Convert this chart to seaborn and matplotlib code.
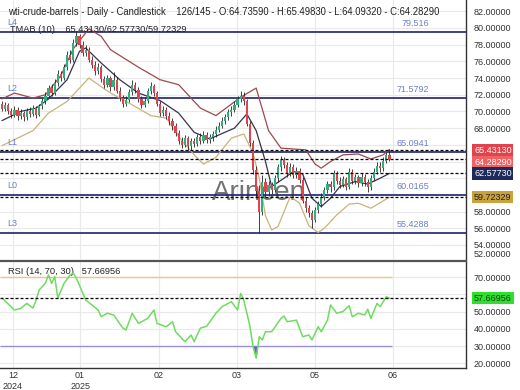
import matplotlib
matplotlib.use("Agg")
import matplotlib.pyplot as plt
import matplotlib.transforms as mtransforms
from matplotlib.ticker import StrMethodFormatter, FuncFormatter
import numpy as np
import pandas as pd
import seaborn as sns

# daily candles, bar 0 ~ early Dec 2024, bar 125 = last bar (2 Jun 2025)
opens = [70.9, 70.3, 70.8, 70.1, 69.6, 70.2, 69.4, 69.8, 69.3, 70.0, 69.7, 70.4, 69.6, 70.6, 71.2, 71.9,
         72.8, 72.2, 73.4, 74.5, 74.0, 75.3, 76.8, 76.2, 78.2, 79.0, 78.0, 77.0, 77.4, 76.2, 75.6, 74.8,
         75.3, 73.9, 73.2, 74.0, 72.9, 73.8, 72.5, 71.6, 70.9, 71.4, 72.3, 73.2, 72.6, 71.5, 70.8, 71.3,
         72.4, 73.0, 72.2, 70.9, 69.8, 70.2, 69.5, 68.8, 68.2, 67.4, 66.5, 66.0, 66.8, 65.8, 66.4, 66.1,
         66.9, 66.5, 67.2, 66.6, 66.9, 67.3, 67.8, 68.3, 68.9, 69.3, 69.9, 70.2, 70.8, 71.5, 71.9, 71.2,
         68.5, 66.2, 63.0, 60.5, 58.0, 61.5, 60.3, 61.2, 60.6, 62.0, 63.3, 64.2, 63.6, 62.6, 63.4, 62.4,
         62.9, 61.8, 59.3, 58.4, 57.8, 57.0, 58.2, 58.9, 59.8, 60.6, 61.3, 60.9, 62.6, 61.7, 61.2, 61.9,
         61.0, 62.8, 61.7, 62.1, 61.4, 62.2, 61.5, 60.9, 62.0, 62.8, 63.5, 63.2, 64.1, 64.7359]
highs = [71.3, 71.1, 71.0, 70.4, 70.6, 70.5, 70.3, 70.1, 70.4, 70.5, 70.8, 70.7, 70.9, 71.6, 72.3, 73.2,
         73.3, 73.9, 75.0, 74.9, 75.7, 77.2, 77.3, 78.7, 79.6, 79.3, 78.4, 77.9, 77.7, 76.6, 76.0, 75.8,
         75.6, 74.3, 74.4, 74.3, 74.7, 74.1, 72.9, 72.0, 71.8, 72.7, 73.8, 73.5, 72.9, 71.9, 71.7, 72.8,
         73.5, 73.3, 72.5, 71.2, 70.7, 70.5, 69.9, 69.2, 68.6, 67.8, 66.9, 67.2, 67.1, 66.8, 66.8, 67.3,
         67.4, 67.6, 67.5, 67.3, 67.7, 68.2, 68.7, 69.3, 69.7, 70.3, 70.6, 71.2, 71.9, 72.4, 72.3, 71.5,
         68.9, 66.6, 63.5, 61.2, 62.4, 62.0, 61.7, 61.6, 62.4, 63.7, 64.7, 64.6, 64.0, 63.8, 63.7, 63.3,
         63.2, 62.1, 59.8, 58.8, 58.2, 58.6, 59.3, 60.2, 61.0, 61.7, 61.7, 63.0, 62.9, 62.1, 62.3, 62.2,
         63.2, 63.1, 62.5, 62.4, 62.6, 62.5, 61.9, 62.4, 63.2, 63.9, 63.9, 64.5, 65.1, 65.4983]
lows = [70.0, 70.0, 69.7, 69.2, 69.3, 69.0, 69.1, 68.9, 69.0, 69.3, 69.4, 69.2, 69.4, 70.3, 70.9, 71.6,
        71.8, 72.0, 73.1, 73.6, 73.8, 75.0, 75.8, 75.9, 77.8, 77.6, 76.6, 76.6, 75.9, 75.2, 74.4, 74.5,
        73.5, 72.8, 72.9, 72.5, 72.6, 72.2, 71.2, 70.5, 70.6, 71.1, 72.0, 72.2, 71.1, 70.4, 70.5, 71.0,
        72.1, 71.8, 70.6, 69.4, 69.5, 69.1, 68.4, 67.8, 67.0, 66.1, 65.6, 65.7, 65.4, 65.4, 65.7, 65.8,
        66.1, 66.2, 66.2, 66.2, 66.5, 66.9, 67.5, 68.0, 68.5, 69.0, 69.5, 69.9, 70.5, 71.1, 70.8, 68.2,
        65.8, 62.5, 59.8, 55.4, 57.6, 59.7, 59.9, 60.1, 60.3, 61.6, 62.9, 63.2, 62.2, 62.3, 62.0, 62.0,
        61.4, 59.0, 58.0, 57.3, 56.0, 56.7, 57.8, 58.5, 59.4, 60.2, 60.4, 60.6, 61.3, 60.8, 60.9, 60.6,
        60.7, 61.3, 61.3, 61.0, 61.1, 61.1, 60.4, 60.6, 61.7, 62.5, 62.8, 62.9, 63.8, 64.0932]
closes = [70.3, 70.8, 70.0, 69.6, 70.2, 69.4, 69.8, 69.3, 70.0, 69.7, 70.4, 69.6, 70.6, 71.2, 71.9, 72.8,
          72.2, 73.4, 74.5, 74.0, 75.3, 76.8, 76.2, 78.2, 79.0, 78.0, 77.0, 77.4, 76.2, 75.6, 74.8, 75.3,
          73.9, 73.2, 74.0, 72.9, 73.8, 72.5, 71.6, 70.9, 71.4, 72.3, 73.2, 72.6, 71.5, 70.8, 71.3, 72.4,
          73.0, 72.2, 70.9, 69.8, 70.2, 69.5, 68.8, 68.2, 67.4, 66.5, 66.0, 66.8, 65.8, 66.4, 66.1, 66.9,
          66.5, 67.2, 66.6, 66.9, 67.3, 67.8, 68.3, 68.9, 69.3, 69.9, 70.2, 70.8, 71.5, 71.9, 71.2, 68.5,
          66.2, 63.0, 60.5, 58.0, 61.5, 60.3, 61.2, 60.6, 62.0, 63.3, 64.2, 63.6, 62.6, 63.4, 62.4, 62.9,
          61.8, 59.3, 58.4, 57.8, 57.0, 58.2, 58.9, 59.8, 60.6, 61.3, 60.9, 62.6, 61.7, 61.2, 61.9, 61.0,
          62.8, 61.7, 62.1, 61.4, 62.2, 61.5, 60.9, 62.0, 62.8, 63.5, 63.2, 64.1, 64.74, 64.2829]

# TMAB (10) bands at these bars
upper_idx = [0, 4, 10, 14, 19, 23, 28, 32, 35, 44, 51, 57, 64, 69, 77, 82, 86, 90, 94, 98, 101, 103,
             106, 110, 115, 119, 123, 125]
upper_band = [71.5, 72.2, 71.6, 72.0, 74.3, 77.5, 79.9, 79.0, 77.4, 75.3, 73.8, 73.2, 70.4, 69.5, 71.7,
              72.8, 67.7, 65.6, 65.5, 65.4, 63.7, 63.2, 64.0, 64.8, 64.9, 64.3, 64.8, 65.4313]
mid_idx = [0, 6, 11, 15, 21, 25, 27, 32, 38, 44, 51, 57, 62, 67, 75, 79, 82, 85, 87, 91, 94, 97, 100,
           103, 106, 109, 114, 118, 122, 125]
mid_band = [68.9, 70.0, 70.4, 71.5, 73.8, 77.2, 77.6, 75.8, 73.8, 72.2, 71.3, 69.8, 67.5, 66.7, 68.0,
            69.7, 67.7, 64.0, 61.0, 62.0, 62.8, 62.5, 59.6, 58.6, 59.6, 61.0, 61.6, 61.3, 62.0, 62.5773]
lower_idx = [0, 10, 15, 21, 28, 35, 41, 48, 53, 58, 63, 65, 69, 74, 78, 81, 83, 85, 87, 89, 93, 96, 99,
             102, 104, 108, 112, 115, 119, 125]
lower_band = [65.9, 67.7, 69.8, 71.2, 74.0, 72.2, 71.0, 69.5, 69.2, 66.5, 64.4, 63.7, 64.5, 66.8, 67.3,
              65.0, 62.0, 57.5, 55.8, 56.2, 59.8, 59.0, 56.3, 55.5, 56.0, 57.6, 58.9, 59.0, 58.4, 59.72329]

# RSI (14, 70, 30)
rsi_idx = [0, 4, 6, 8, 10, 11, 12, 14, 15, 16, 17, 18, 20, 22, 23, 24, 27, 31, 32, 34, 36, 39, 40, 42,
           44, 47, 49, 50, 53, 55, 56, 59, 61, 62, 64, 66, 69, 71, 74, 76, 77, 78, 80, 81, 82, 83, 84,
           85, 87, 90, 91, 92, 95, 97, 99, 100, 102, 103, 105, 106, 108, 110, 112, 113, 115, 117, 118,
           119, 121, 122, 124, 125]
rsi_vals = [57.8, 50.9, 51.8, 54.7, 52.0, 56.7, 62.5, 66.5, 71.2, 66.3, 70.2, 57.8, 66.3, 71.2, 72.3,
            69.3, 56.7, 50.9, 47.0, 49.0, 48.0, 40.4, 39.3, 49.0, 43.1, 46.0, 50.9, 43.1, 41.2, 44.1,
            38.3, 32.5, 36.4, 32.5, 40.4, 41.4, 49.0, 52.8, 55.7, 50.9, 60.5, 56.7, 41.4, 29.6, 23.0,
            35.4, 33.5, 38.3, 38.3, 46.0, 47.4, 44.1, 45.0, 35.4, 36.4, 33.5, 41.2, 38.3, 45.0, 53.8,
            49.0, 50.0, 53.4, 47.0, 49.0, 48.0, 51.3, 46.0, 54.7, 52.8, 58.6, 57.66956]

level_names = ["L4", "L2", "L1", "L0", "L3"]
level_values = [79.516, 71.5792, 65.0941, 60.0165, 55.4288]
level_text = ["79.516", "71.5792", "65.0941", "60.0165", "55.4288"]

tick_pos = [3.5, 25.2, 50.6, 75.8, 101.0, 126.1]
tick_labels = ["12\n2024", "01\n2025", "02", "03", "05", "06"]

last_upper, last_mid, last_lower = 65.43130, 62.57730, 59.72329
last_close = 64.28290
last_rsi = 57.66956

GREEN = "#2fae7e"
RED = "#e5424d"
NAVY = "#1c2370"
LEVEL_TXT = "#6a7fc8"
GRID = "#e9e9e9"

sns.set_theme(style="white")
plt.rcParams["font.family"] = ["Liberation Sans", "DejaVu Sans"]

fig = plt.figure(figsize=(5.2, 3.9), dpi=100)
W, H = 520, 390
ax = fig.add_axes([0, 1 - 259 / H, 466 / W, 259 / H])
ax_rsi = fig.add_axes([0, 1 - 368 / H, 466 / W, 107 / H], sharex=ax)

df = pd.DataFrame({"o": opens, "h": highs, "l": lows, "c": closes})
df["i"] = np.arange(len(df))
up = df["c"] >= df["o"]

# ---- main panel
ax.vlines(df["i"], df["l"], df["h"], color="#222222", lw=0.6, zorder=4)
ax.bar(df["i"], (df["c"] - df["o"]).abs().clip(lower=0.06),
       bottom=df[["o", "c"]].min(axis=1), width=0.72,
       color=np.where(up, GREEN, RED), linewidth=0, zorder=5)

sns.lineplot(x=upper_idx, y=upper_band, ax=ax, color="#9c4a4a", lw=0.9, zorder=3)
sns.lineplot(x=mid_idx, y=mid_band, ax=ax, color="#33334f", lw=0.9, zorder=3)
sns.lineplot(x=lower_idx, y=lower_band, ax=ax, color="#c9b37a", lw=0.9, zorder=3)

bl = mtransforms.blended_transform_factory(ax.transAxes, ax.transData)
for name, v, t in zip(level_names, level_values, level_text):
    ax.axhline(v, color=NAVY, lw=1.2, zorder=2)
    ax.text(0.015, v + 0.6, name, transform=bl, fontsize=6.5, color=LEVEL_TXT, va="bottom", zorder=6)
    ax.text(0.921, v + 0.5, t, transform=bl, fontsize=6.5, color=LEVEL_TXT, va="bottom", ha="right", zorder=6)

for v in [last_upper, last_close, last_mid, last_lower]:
    ax.axhline(v, color="black", lw=0.9, ls=(0, (2.4, 1.6)), zorder=6)

ax.text(0.556, 0.255, "Arincen", transform=ax.transAxes, fontsize=20, color="#5a5a5a",
        alpha=0.85, ha="center", va="center", zorder=1)

ax.set_xlim(-0.65, 149.7)
ax.set_ylim(52.32, 83.35)
ax.set_yticks(np.arange(54, 83, 2))
# labels 60..66 sit under the price boxes in the original
ax.yaxis.set_major_formatter(FuncFormatter(lambda v, p: "" if 59.5 < v < 66.5 else f"{v:.5f}"))
ax.yaxis.tick_right()
ax.tick_params(axis="y", length=0, pad=5.5, labelsize=6.5, labelcolor="#333333")
ax.tick_params(axis="x", labelbottom=False, length=0)
ax.set_xticks(tick_pos)
ax.grid(True, color=GRID, lw=0.8)
ax.set_axisbelow(True)
for s in ["left", "top", "bottom"]:
    ax.spines[s].set_visible(False)
ax.spines["right"].set_color("#333333")
ax.spines["right"].set_linewidth(1.0)
# 52 label sits clamped at the panel bottom in the original
ax.text(1.0172, 52.82, "52.00000", transform=bl, fontsize=6.5, color="#333333", va="center")


def price_box(a, y, text, fc, tc, dy=0):
    tr = mtransforms.offset_copy(mtransforms.blended_transform_factory(a.transAxes, a.transData),
                                 fig=fig, x=0, y=dy, units="dots")
    a.text(1.0172, y, text, transform=tr, ha="left", va="center", fontsize=6.5, color=tc,
           bbox=dict(boxstyle="square,pad=0.18", fc=fc, ec="none"), clip_on=False, zorder=10)


price_box(ax, last_upper, f"{last_upper:.5f}", "#e0434c", "white", dy=-1)
price_box(ax, last_close, f"{last_close:.5f}", "#f06262", "white", dy=-3)
price_box(ax, last_mid, f"{last_mid:.5f}", "#1d2a5c", "white")
price_box(ax, last_lower, f"{last_lower:.5f}", "#c9a23a", "#222222")

# ---- RSI panel
rsi = np.array(rsi_vals)
sns.lineplot(x=rsi_idx, y=rsi_vals, ax=ax_rsi, color="#6edc5f", lw=1.1, zorder=4)
ax_rsi.fill_between(rsi_idx, rsi, 30, where=rsi < 30, interpolate=True, color="#6f5fc8", lw=0, zorder=3)
ax_rsi.hlines(70, -0.65, 125.8, color="#f3c57a", lw=1.0, zorder=2)
ax_rsi.hlines(30, -0.65, 125.8, color="#9d8fe0", lw=1.0, zorder=2)
ax_rsi.axhline(last_rsi, color="black", lw=0.9, ls=(0, (2.4, 1.6)), zorder=5)

ax_rsi.set_ylim(17.25, 79.3)
ax_rsi.set_yticks(np.arange(20, 71, 10))
ax_rsi.yaxis.set_major_formatter(StrMethodFormatter("{x:.5f}"))
ax_rsi.yaxis.tick_right()
ax_rsi.tick_params(axis="y", length=0, pad=5.5, labelsize=6.5, labelcolor="#333333")
ax_rsi.set_xticks(tick_pos)
ax_rsi.set_xticklabels(tick_labels)
ax_rsi.tick_params(axis="x", length=0, pad=2.5, labelsize=6.5, labelcolor="#333333")
ax_rsi.grid(True, color=GRID, lw=0.8)
ax_rsi.set_axisbelow(True)
ax_rsi.spines["left"].set_visible(False)
for s in ["right", "bottom"]:
    ax_rsi.spines[s].set_color("#333333")
    ax_rsi.spines[s].set_linewidth(1.0)
ax_rsi.spines["top"].set_color("#555555")
ax_rsi.spines["top"].set_linewidth(1.6)
price_box(ax_rsi, last_rsi, f"{last_rsi:.5f}", "#2ee02e", "#1a3a1a")

ax_rsi.text(0.017, 0.9, f"RSI (14, 70, 30)   {last_rsi:.5f}", transform=ax_rsi.transAxes,
            fontsize=6.7, color="#222222", va="center")

# ---- header texts
fig.text(8 / W, 1 - 12 / H,
         "wti-crude-barrels - Daily - Candlestick    126/145 - O:64.73590 - H:65.49830 - "
         "L:64.09320 - C:64.28290", fontsize=6.85, color="#222222", va="center")
fig.text(10 / W, 1 - 30 / H, f"TMAB (10)    {last_upper:.5f}/{last_mid:.5f}/{last_lower:.5f}",
         fontsize=6.7, color="#222222", va="center")

fig.savefig("out.png", dpi=100)
